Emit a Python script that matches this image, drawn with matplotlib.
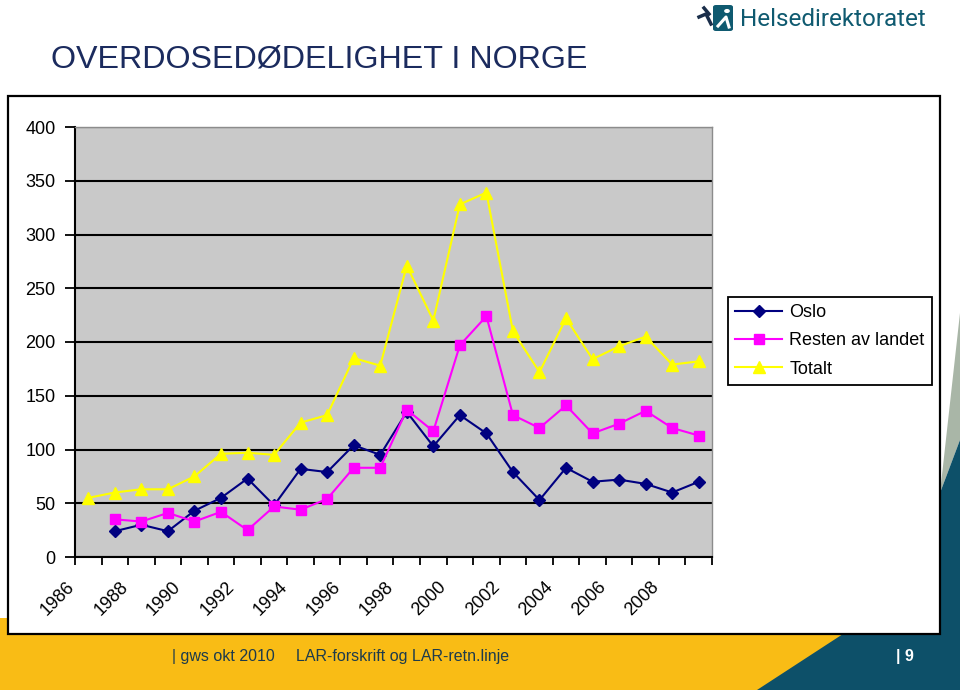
import matplotlib
matplotlib.use("Agg")
import matplotlib.pyplot as plt
from matplotlib.patches import Rectangle, Polygon, FancyBboxPatch, Circle
from matplotlib.transforms import ScaledTranslation, blended_transform_factory
from matplotlib.lines import Line2D

plt.rcParams['font.family'] = ['Liberation Sans', 'DejaVu Sans']

years = list(range(1986, 2010))
oslo = [None, 24, 30, 24, 43, 55, 73, 48, 82, 79, 104, 95, 135, 103, 132, 115,
        79, 53, 83, 70, 72, 68, 60, 70]
resten = [None, 35, 33, 41, 33, 42, 25, 47, 44, 54, 83, 83, 137, 117, 197, 224,
          132, 120, 141, 115, 124, 136, 120, 113]
totalt = [55, 60, 63, 63, 75, 96, 97, 95, 125, 132, 185, 178, 271, 220, 328, 339,
          210, 172, 222, 184, 196, 205, 179, 182]
yticks = [0, 50, 100, 150, 200, 250, 300, 350, 400]
xlabels = [str(y) for y in years[::2]]
series_names = ["Oslo", "Resten av landet", "Totalt"]
title = "OVERDOSEDØDELIGHET I NORGE"

W, H = 960, 690
fig = plt.figure(figsize=(9.6, 6.9), dpi=100)

def fx(px):
    return px / W

def fy(py):
    return 1 - py / H

# footer background
fig.patches.append(Rectangle((0, 0), 1, fy(618), transform=fig.transFigure,
                             facecolor="#F9BC15", edgecolor="none", zorder=0))
fig.patches.append(Polygon([(fx(940), fy(493)), (fx(960), fy(313)), (fx(960), fy(440))],
                           closed=True, transform=fig.transFigure,
                           facecolor="#A9B6A7", edgecolor="none", zorder=0))
fig.patches.append(Polygon([(fx(757), fy(690)), (fx(843), fy(634)), (fx(940), fy(493)),
                            (fx(960), fy(440)), (fx(960), fy(690))],
                           closed=True, transform=fig.transFigure,
                           facecolor="#0D5069", edgecolor="none", zorder=0))
# chart frame
fig.patches.append(Rectangle((fx(8), fy(634)), fx(940) - fx(8), fy(96) - fy(634),
                             transform=fig.transFigure, facecolor="white",
                             edgecolor="black", linewidth=1.6, zorder=1))

# title
fig.text(fx(51), fy(60), title, fontsize=23.2, color="#1B2B5E", va="center", ha="left")

# logo
fig.patches.append(FancyBboxPatch((fx(713), fy(31)), fx(20), fy(5) - fy(31),
                                  boxstyle="round,pad=0,rounding_size=0.003",
                                  transform=fig.transFigure, facecolor="#0F5A70",
                                  edgecolor="none", zorder=2))
fig.lines.append(Line2D([fx(718), fx(726), fx(729)], [fy(26), fy(17), fy(27)],
                        transform=fig.transFigure, color="white", lw=2.2, zorder=3))
fig.patches.append(Circle((fx(727), fy(11)), 0.003, transform=fig.transFigure,
                          facecolor="white", edgecolor="none", zorder=3))
fig.lines.append(Line2D([fx(699), fx(706), fx(711)], [fy(17), fy(14), fy(24)],
                        transform=fig.transFigure, color="#1A2E4A", lw=2.5, zorder=3))
fig.lines.append(Line2D([fx(704), fx(709)], [fy(8), fy(14)],
                        transform=fig.transFigure, color="#1A2E4A", lw=2.5, zorder=3))
fig.text(fx(740), fy(19), "Helsedirektoratet", fontsize=17.5, color="#0F5A70",
         family=["Roboto", "DejaVu Sans"], va="center", ha="left")

# footer text
fig.text(fx(172), fy(657), "| gws okt 2010", fontsize=11.5, color="#1D3B4C",
         va="center", ha="left")
fig.text(fx(296), fy(657), "LAR-forskrift og LAR-retn.linje", fontsize=11.5,
         color="#1D3B4C", va="center", ha="left")
fig.text(fx(896), fy(657), "| 9", fontsize=11.5, color="white", weight="bold",
         va="center", ha="left")

# axes
ax = fig.add_axes([fx(75), fy(557), fx(712) - fx(75), fy(127) - fy(557)], zorder=5)
ax.set_facecolor("#C9C9C9")
x = list(range(len(years)))
xo = [i for i, v in zip(x, oslo) if v is not None]
yo = [v for v in oslo if v is not None]
xr = [i for i, v in zip(x, resten) if v is not None]
yr = [v for v in resten if v is not None]
ax.plot(xo, yo, color="#000080", lw=1.5, marker="D", ms=6.5, label=series_names[0], zorder=4)
ax.plot(xr, yr, color="#FF00FF", lw=1.5, marker="s", ms=7, label=series_names[1], zorder=4)
ax.plot(x, totalt, color="#FFFF00", lw=1.5, marker="^", ms=8.5, label=series_names[2], zorder=4)

ax.set_xlim(-0.5, len(years) - 0.5)
ax.set_ylim(0, 400)
ax.set_yticks(yticks)
ax.set_yticklabels([str(t) for t in yticks], fontsize=13)
ax.yaxis.grid(True, color="black", lw=1.5)
ax.set_axisbelow(True)
ax.tick_params(axis="y", length=7, width=1.3, pad=7, direction="out")

ax.set_xticks([i - 0.5 for i in range(len(years) + 1)])
ax.set_xticklabels([])
ax.tick_params(axis="x", length=6, width=1.3, direction="out")

tr = blended_transform_factory(ax.transData, ax.transAxes) + \
    ScaledTranslation(-10 / 100, -21 / 100, fig.dpi_scale_trans)
for i, lab in zip(range(0, len(years), 2), xlabels):
    ax.text(i, 0, lab, transform=tr, rotation=45, ha="right", va="top",
            fontsize=13, clip_on=False)

for s in ["left", "bottom"]:
    ax.spines[s].set_color("black")
    ax.spines[s].set_linewidth(1.5)
for s in ["top", "right"]:
    ax.spines[s].set_color("#8C8C8C")
    ax.spines[s].set_linewidth(1.0)

leg = fig.legend(loc="upper left", bbox_to_anchor=(fx(728), fy(297)),
                 bbox_transform=fig.transFigure, fontsize=13, frameon=True,
                 fancybox=False, edgecolor="black", framealpha=1,
                 handlelength=2.6, borderpad=0.4, labelspacing=0.62,
                 handletextpad=0.4, borderaxespad=0)
leg.get_frame().set_linewidth(1.3)

fig.savefig("out.png", dpi=100)
